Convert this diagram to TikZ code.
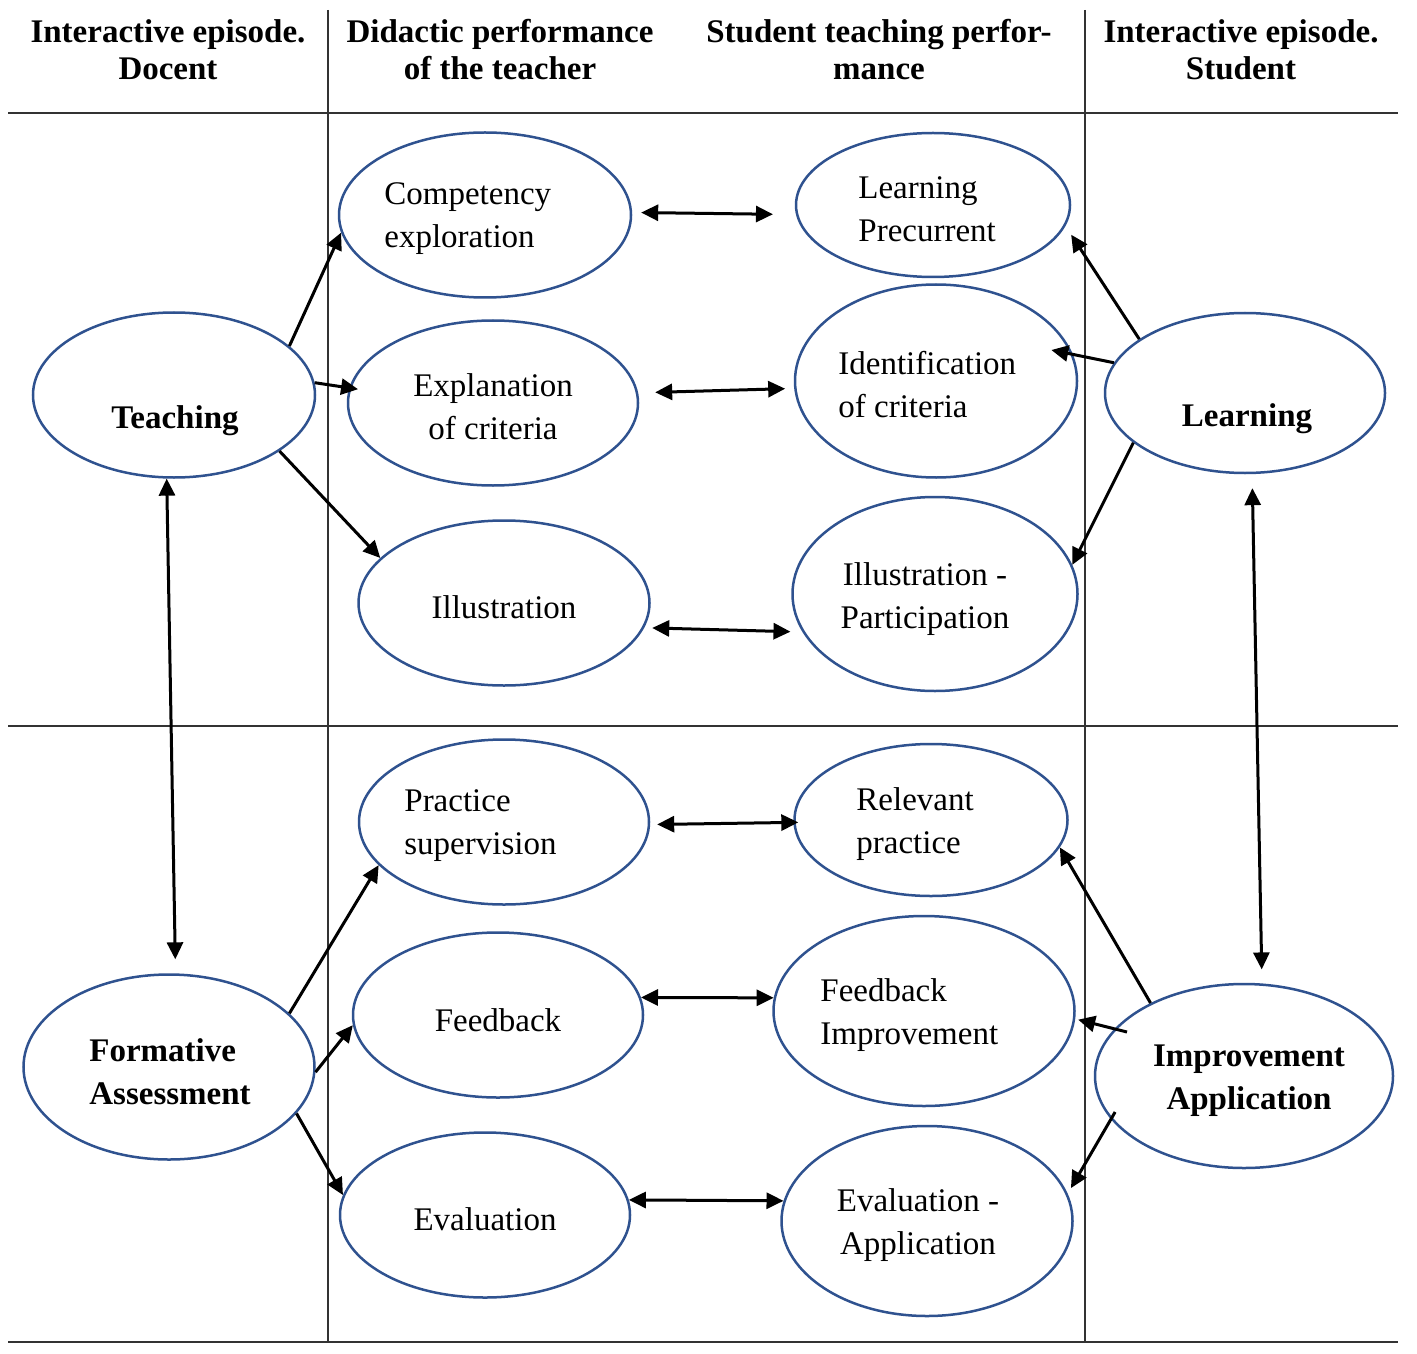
\documentclass[tikz,border=0pt]{standalone}
\usepackage{fontspec}
\setmainfont{Liberation Serif}
\usetikzlibrary{shapes.geometric,arrows.meta}
\definecolor{ellblue}{HTML}{2F528F}
\definecolor{rulegray}{HTML}{333333}
\begin{document}
\begin{tikzpicture}[x=0.5pt,y=-0.5pt,
  ell/.style={ellipse,draw=ellblue,line width=1.25pt,inner sep=0pt},
  txt/.style={font=\fontsize{16.5}{21.5}\selectfont,inner sep=0pt,yshift=-2pt},
  btxt/.style={font=\fontsize{16.5}{21.5}\selectfont\bfseries,inner sep=0pt,yshift=-2pt},
  hdr/.style={font=\fontsize{16.5}{18.5}\selectfont\bfseries,align=center,inner sep=0pt},
  rule/.style={draw=rulegray,line width=0.75pt},
  arr/.style={line width=1.5pt,-{Triangle[length=8.5pt,width=8pt]}},
  darr/.style={line width=1.5pt,{Triangle[length=8.5pt,width=8pt]}-{Triangle[length=8.5pt,width=8pt]}}]
\useasboundingbox (0,0) rectangle (1417,1353);

% table rules
\draw[rule] (8,113) -- (1398,113);
\draw[rule] (8,726) -- (1398,726);
\draw[rule] (8,1342) -- (1398,1342);
\draw[rule] (328,10) -- (328,1342);
\draw[rule] (1085,10) -- (1085,1342);

% headers
\node[hdr] (h1) at (168,49.5) {Interactive episode.\\Docent};
\node[hdr] (h2) at (500,49.5) {Didactic performance\\of the teacher};
\node[hdr] (h3) at (879,49.5) {Student teaching perfor-\\mance};
\node[hdr] (h4) at (1241,49.5) {Interactive episode.\\Student};

% ellipses
\node[ell,minimum width=141pt,minimum height=82.5pt] (teach) at (174,395) {};
\node[ell,minimum width=146pt,minimum height=82.5pt] (comp) at (485,215) {};
\node[ell,minimum width=137pt,minimum height=72pt] (lp) at (933,205) {};
\node[ell,minimum width=145pt,minimum height=82.5pt] (expl) at (493,403) {};
\node[ell,minimum width=141pt,minimum height=96.5pt] (ident) at (936,381) {};
\node[ell,minimum width=140pt,minimum height=80pt] (learn) at (1245,393) {};
\node[ell,minimum width=145.5pt,minimum height=82.5pt] (illus) at (504,603) {};
\node[ell,minimum width=142.5pt,minimum height=97pt] (ip) at (935,594) {};
\node[ell,minimum width=145pt,minimum height=82.5pt] (prac) at (504,822) {};
\node[ell,minimum width=136.5pt,minimum height=76pt] (rel) at (931,820) {};
\node[ell,minimum width=145pt,minimum height=82.5pt] (fb) at (498,1015) {};
\node[ell,minimum width=150.5pt,minimum height=95pt] (fbi) at (924,1011) {};
\node[ell,minimum width=145.5pt,minimum height=92.5pt] (form) at (169,1067) {};
\node[ell,minimum width=149pt,minimum height=92pt] (impr) at (1244,1076) {};
\node[ell,minimum width=145pt,minimum height=82.5pt] (eval) at (485,1215) {};
\node[ell,minimum width=145.5pt,minimum height=95pt] (ea) at (927,1221) {};

% texts
\node[btxt] (teach-t) at (175,417) {Teaching};
\node[txt,align=left,anchor=west] (comp-t) at (384,215) {Competency\\exploration};
\node[txt,align=left,anchor=west] (lp-t) at (858,205) {Learning\\Precurrent};
\node[txt,align=center] (expl-t) at (493,403) {Explanation\\of criteria};
\node[txt,align=left,anchor=west] (ident-t) at (838,381) {Identification\\of criteria};
\node[btxt] (learn-t) at (1247,415) {Learning};
\node[txt] (illus-t) at (504,603) {Illustration};
\node[txt,align=center] (ip-t) at (925,595) {Illustration -\\Participation};
\node[txt,align=left,anchor=west] (prac-t) at (404,822) {Practice\\supervision};
\node[txt,align=left,anchor=west] (rel-t) at (856,820) {Relevant\\practice};
\node[txt] (fb-t) at (498,1016) {Feedback};
\node[txt,align=left,anchor=west] (fbi-t) at (820,1011) {Feedback\\Improvement};
\node[btxt,align=left,anchor=west] (form-t) at (89,1068) {Formative\\Assessment};
\node[btxt,align=center] (impr-t) at (1249,1077) {Improvement\\Application};
\node[txt] (eval-t) at (485,1215) {Evaluation};
\node[txt,align=center] (ea-t) at (918,1221) {Evaluation -\\Application};

% connectors: upper part
\draw[arr] (teach.23) -- (comp.187);
\draw[arr,shorten >=-4.5pt] (teach.5) -- (expl.174);
\draw[arr] (teach.-28) -- (illus.160);
\draw[darr,shorten <=4.5pt,shorten >=11.5pt] (comp.1) -- (lp.184);
\draw[darr,shorten <=8.5pt,shorten >=4.5pt] (expl.4) -- (ident.183);
\draw[darr,shorten <=4pt,shorten >=6pt] (illus.-10) -- (ip.196);
\draw[arr,shorten >=5.2pt] (learn.153) -- (lp.-9);
\draw[arr,shorten >=-11pt] (learn.167) -- (ident.11);
\draw[arr] (learn.204) -- (ip.12);

% vertical links
\draw[darr,shorten >=7pt] (teach.265) -- (form.86);
\draw[darr,shorten <=7pt,shorten >=7pt] (learn.-85) -- (impr.79);

% connectors: lower part
\draw[arr] (form.24) -- (prac.199);
\draw[arr] (form.-2) -- (fb.184);
\draw[arr] (form.-20) -- (eval.172);
\draw[darr,shorten <=3.5pt,shorten >=-2.5pt] (prac.-1) -- (rel.181);
\draw[darr] (fb.7) -- (fbi.175);
\draw[darr] (eval.6) -- (ea.172);
\draw[arr] (impr.142) -- (rel.-12);
\draw[arr,shorten <=-6.5pt,shorten >=1.5pt] (impr.160) -- (fbi.-3);
\draw[arr,shorten <=-4.2pt,shorten >=3.2pt] (impr.198) -- (ea.11);
\end{tikzpicture}
\end{document}
